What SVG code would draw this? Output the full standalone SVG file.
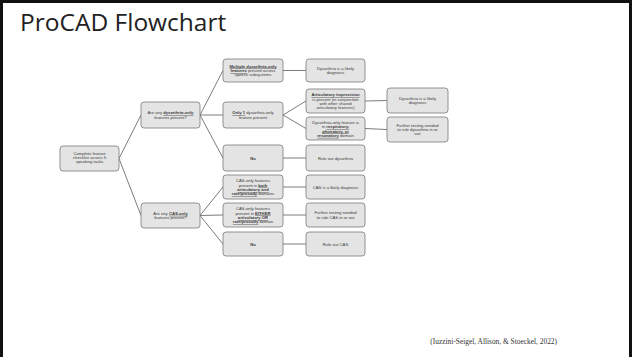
<svg xmlns="http://www.w3.org/2000/svg" width="632" height="357" viewBox="0 0 632 357">
<style>
.box{fill:#e4e4e4;stroke:#7a7a7a;stroke-width:0.8}
.t{font-family:"Liberation Sans",Arial,sans-serif;font-size:4.2px;fill:#3a3a3a;text-anchor:middle}
.b{font-weight:bold;text-decoration:underline}
.bn{font-weight:bold}
.c line{stroke:#5a5a5a;stroke-width:0.8}
</style>
<rect x="0" y="0" width="632" height="357" fill="#ffffff"/>
<path d="M1.5 357 V1.5 H630.5 V357" fill="none" stroke="#111" stroke-width="3"/>
<text x="20" y="30.5" font-family="'Open Sans','Noto Sans',sans-serif" font-size="24.5" fill="#222">ProCAD Flowchart</text>
<text x="557" y="344" font-family="'Liberation Serif','Times New Roman',serif" font-size="7.4" fill="#333" text-anchor="end">(Iuzzini-Seigel, Allison, &amp; Stoeckel, 2022)</text>

<g class="c" id="connectors">
<line x1="119" y1="158.5" x2="141" y2="115"/>
<line x1="119" y1="158.5" x2="141" y2="215.5"/>
<line x1="200" y1="115" x2="223" y2="70.5"/>
<line x1="200" y1="115" x2="223" y2="115"/>
<line x1="200" y1="115" x2="223" y2="158"/>
<line x1="200" y1="215.5" x2="223" y2="187"/>
<line x1="200" y1="215.5" x2="223" y2="215"/>
<line x1="200" y1="215.5" x2="223" y2="244"/>
<line x1="283" y1="70.5" x2="306" y2="70.5"/>
<line x1="283" y1="115" x2="306" y2="101"/>
<line x1="283" y1="115" x2="306" y2="128.5"/>
<line x1="283" y1="158" x2="306" y2="158"/>
<line x1="283" y1="187" x2="306" y2="187"/>
<line x1="283" y1="215" x2="306" y2="215"/>
<line x1="283" y1="244" x2="306" y2="244"/>
<line x1="365" y1="101" x2="387" y2="100.5"/>
<line x1="365" y1="128.5" x2="387" y2="129.5"/>
</g>

<g id="root">
<rect class="box" x="60" y="146" width="59" height="25" rx="3"/>
<text class="t" x="89.5" y="154.6">Complete feature</text>
<text class="t" x="89.5" y="159">checklist across 5</text>
<text class="t" x="89.5" y="163.4">speaking tasks</text>
</g>
<g id="q-dys">
<rect class="box" x="141" y="102" width="59" height="26" rx="3"/>
<text class="t" x="170.5" y="114.3">Are any <tspan class="b">dysarthria-only</tspan></text>
<text class="t" x="170.5" y="118.7">features present?</text>
</g>
<g id="q-cas">
<rect class="box" x="141" y="203" width="59" height="25" rx="3"/>
<text class="t" x="170.5" y="214.8">Are any <tspan class="b">CAS-only</tspan></text>
<text class="t" x="170.5" y="219.2">features present?</text>
</g>

<g id="dys-multiple">
<rect class="box" x="223" y="59" width="60" height="23" rx="3"/>
<text class="t" x="253" y="67.6"><tspan class="b">Multiple dysarthria-only</tspan></text>
<text class="t" x="253" y="72"><tspan class="b">features</tspan> present across</text>
<text class="t" x="253" y="76.4">speech subsystems</text>
</g>
<g id="dys-only1">
<rect class="box" x="223" y="102" width="60" height="26" rx="3"/>
<text class="t" x="253" y="114.3"><tspan class="b">Only 1</tspan> dysarthria-only</text>
<text class="t" x="253" y="118.7">feature present</text>
</g>
<g id="dys-no">
<rect class="box" x="223" y="145" width="60" height="26" rx="3"/>
<text class="t bn" x="253" y="159.5">No</text>
</g>
<g id="cas-both">
<rect class="box" x="223" y="175" width="60" height="24" rx="3"/>
<text class="t" x="253" y="182.2">CAS-only features</text>
<text class="t" x="253" y="186.6">present in <tspan class="b">both</tspan></text>
<text class="t" x="253" y="191"><tspan class="b">articulatory and</tspan></text>
<text class="t" x="253" y="195.4"><tspan class="b">rate/prosody</tspan> domains</text>
</g>
<g id="cas-either">
<rect class="box" x="223" y="203" width="60" height="24" rx="3"/>
<text class="t" x="253" y="210.2">CAS-only features</text>
<text class="t" x="253" y="214.6">present in <tspan class="b">EITHER</tspan></text>
<text class="t" x="253" y="219"><tspan class="b">articulatory OR</tspan></text>
<text class="t" x="253" y="223.4"><tspan class="b">rate/prosody</tspan> domain</text>
</g>
<g id="cas-no">
<rect class="box" x="223" y="232" width="60" height="24" rx="3"/>
<text class="t bn" x="253" y="245.5">No</text>
</g>

<g id="dys-likely-1">
<rect class="box" x="306" y="59" width="59" height="23" rx="3"/>
<text class="t" x="335.5" y="69.8">Dysarthria is a likely</text>
<text class="t" x="335.5" y="74.2">diagnosis</text>
</g>
<g id="artic-imprecision">
<rect class="box" x="306" y="89" width="59" height="24" rx="3"/>
<text class="t" x="335.5" y="96.2"><tspan class="b">Articulatory imprecision</tspan></text>
<text class="t" x="335.5" y="100.6">is present (in conjunction</text>
<text class="t" x="335.5" y="105">with other shared</text>
<text class="t" x="335.5" y="109.4">articulatory features)</text>
</g>
<g id="dys-other-domain">
<rect class="box" x="306" y="117" width="59" height="23" rx="3"/>
<text class="t" x="335.5" y="123.7">Dysarthria-only feature is</text>
<text class="t" x="335.5" y="128.1">in <tspan class="b">respiratory,</tspan></text>
<text class="t" x="335.5" y="132.5"><tspan class="b">phonatory, or</tspan></text>
<text class="t" x="335.5" y="136.9"><tspan class="b">resonatory</tspan> domain</text>
</g>
<g id="rule-out-dys">
<rect class="box" x="306" y="145" width="59" height="26" rx="3"/>
<text class="t" x="335.5" y="159.5">Rule out dysarthria</text>
</g>
<g id="cas-likely">
<rect class="box" x="306" y="175" width="59" height="24" rx="3"/>
<text class="t" x="335.5" y="188.5">CAS is a likely diagnosis</text>
</g>
<g id="cas-further">
<rect class="box" x="306" y="203" width="59" height="24" rx="3"/>
<text class="t" x="335.5" y="214.3">Further testing needed</text>
<text class="t" x="335.5" y="218.7">to rule CAS in or out</text>
</g>
<g id="rule-out-cas">
<rect class="box" x="306" y="232" width="59" height="24" rx="3"/>
<text class="t" x="335.5" y="245.5">Rule out CAS</text>
</g>

<g id="dys-likely-2">
<rect class="box" x="387" y="88" width="61" height="25" rx="3"/>
<text class="t" x="417.5" y="99.8">Dysarthria is a likely</text>
<text class="t" x="417.5" y="104.2">diagnosis</text>
</g>
<g id="dys-further">
<rect class="box" x="387" y="117" width="61" height="25" rx="3"/>
<text class="t" x="417.5" y="126.6">Further testing needed</text>
<text class="t" x="417.5" y="131">to rule dysarthria in or</text>
<text class="t" x="417.5" y="135.4">out</text>
</g>
</svg>
